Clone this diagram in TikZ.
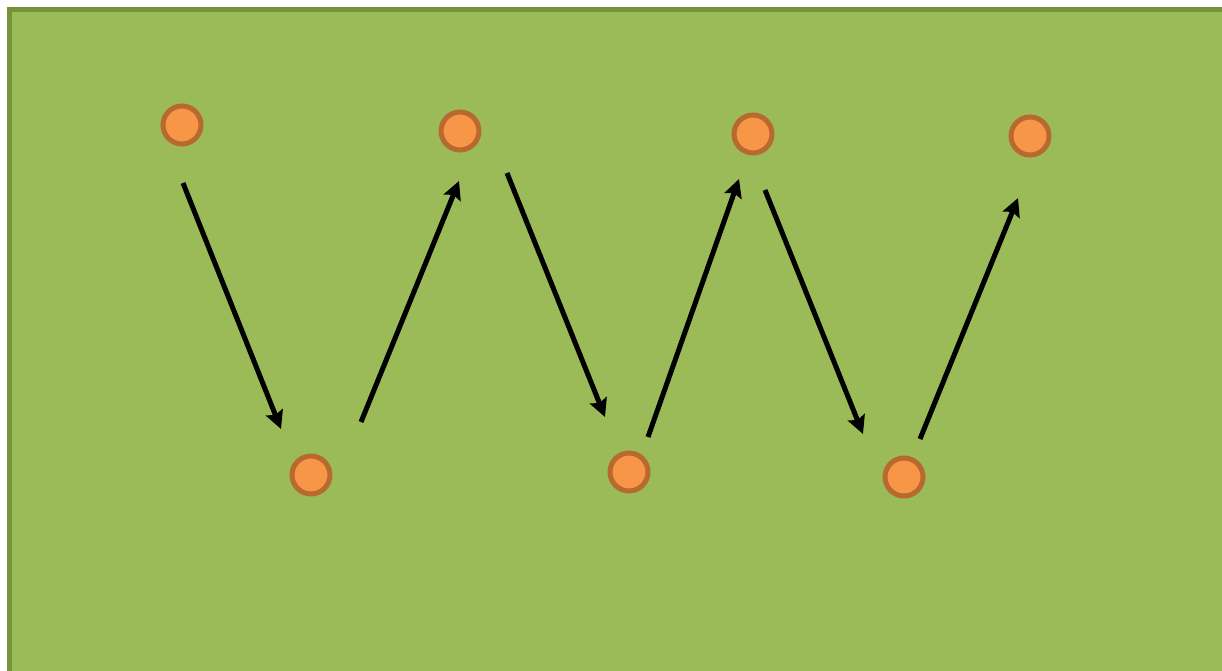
\documentclass[tikz,border=0pt]{standalone}
\usetikzlibrary{arrows.meta}
\definecolor{bgfill}{HTML}{9BBB59}
\definecolor{bgline}{HTML}{76923C}
\definecolor{dotfill}{HTML}{F79646}
\definecolor{dotline}{HTML}{B8692F}
\tikzset{
  dot/.style={circle, fill=dotfill, draw=dotline, line width=5pt, minimum size=38pt, inner sep=0pt},
  zig/.style={line width=5pt, -{Stealth[length=18pt, width=18pt, inset=3pt]}}
}
\begin{document}
\begin{tikzpicture}[x=1pt, y=-1pt]
\useasboundingbox (0,0) rectangle (1222,671);
\fill[white] (0,0) rectangle (1222,671);
\draw[fill=bgfill, draw=bgline, line width=5pt] (9.5,9.5) rectangle (1232,682);
\node[dot] (t1) at (182,125) {};
\node[dot] (t2) at (460,131) {};
\node[dot] (t3) at (753,134) {};
\node[dot] (t4) at (1030,136) {};
\node[dot] (b1) at (311,475) {};
\node[dot] (b2) at (629,472) {};
\node[dot] (b3) at (904,477) {};
\coordinate (a1s) at (183,183); \coordinate (a1e) at (281,429);
\coordinate (a2s) at (361,422); \coordinate (a2e) at (459,181);
\coordinate (a3s) at (507,173); \coordinate (a3e) at (605,417);
\coordinate (a4s) at (648,437); \coordinate (a4e) at (739,179);
\coordinate (a5s) at (765,190); \coordinate (a5e) at (863,434);
\coordinate (a6s) at (920,439); \coordinate (a6e) at (1018,198);
\draw[zig] (a1s) -- (a1e);
\draw[zig] (a2s) -- (a2e);
\draw[zig] (a3s) -- (a3e);
\draw[zig] (a4s) -- (a4e);
\draw[zig] (a5s) -- (a5e);
\draw[zig] (a6s) -- (a6e);
\end{tikzpicture}
\end{document}
